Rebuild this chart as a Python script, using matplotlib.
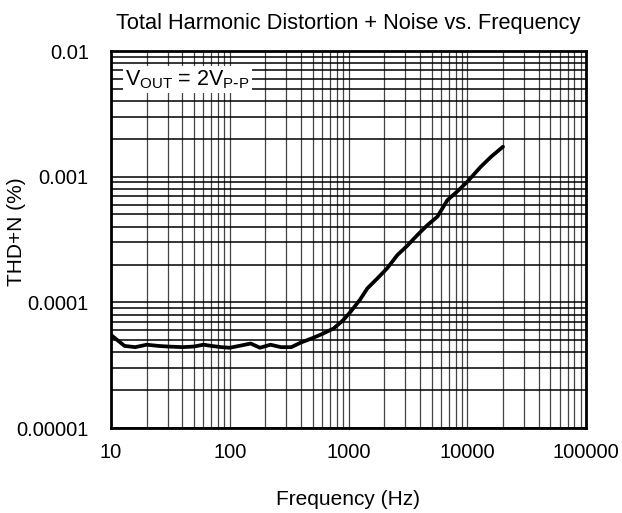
import numpy as np
import matplotlib
matplotlib.use('Agg')
import matplotlib.pyplot as plt
from matplotlib.ticker import LogLocator, FixedLocator, FixedFormatter, NullFormatter

plt.rcParams['font.family'] = ['Liberation Sans', 'DejaVu Sans']

# Data
freq = [10, 13, 16, 20, 25, 30, 40, 50, 60, 70, 85, 100, 120, 150, 180, 220,
        270, 330, 400, 500, 600, 750, 900, 1040, 1250, 1440, 1750, 2120, 2580,
        3100, 3800, 4600, 5600, 6800, 8200, 10000, 13000, 16000, 20000]
thdn = [5.5e-5, 4.5e-5, 4.4e-5, 4.6e-5, 4.5e-5, 4.45e-5, 4.4e-5, 4.45e-5, 4.6e-5,
        4.5e-5, 4.4e-5, 4.35e-5, 4.5e-5, 4.7e-5, 4.35e-5, 4.6e-5, 4.4e-5, 4.4e-5,
        4.8e-5, 5.2e-5, 5.6e-5, 6.2e-5, 7.2e-5, 8.4e-5, 1.05e-4, 1.29e-4, 1.55e-4,
        1.87e-4, 2.38e-4, 2.8e-4, 3.43e-4, 4.1e-4, 4.8e-4, 6.5e-4, 7.6e-4, 9.1e-4,
        1.2e-3, 1.45e-3, 1.73e-3]

yticks = [1e-5, 1e-4, 1e-3, 1e-2]
ytick_labels = ['0.00001', '0.0001', '0.001', '0.01']
xticks = [10, 100, 1000, 10000, 100000]
xtick_labels = ['10', '100', '1000', '10000', '100000']

fig = plt.figure(figsize=(6.22, 5.13), dpi=100)
ax = fig.add_axes([111 / 622, 1 - 428 / 513, (586 - 111) / 622, (428 - 51) / 513])

ax.plot(freq, thdn, color='black', linewidth=2.7, zorder=3,
        solid_capstyle='round', solid_joinstyle='round')

ax.set_xscale('log')
ax.set_yscale('log')
ax.set_xlim(10, 100000)
ax.set_ylim(1e-5, 1e-2)

ax.xaxis.set_major_locator(FixedLocator(xticks))
ax.xaxis.set_major_formatter(FixedFormatter(xtick_labels))
ax.yaxis.set_major_locator(FixedLocator(yticks))
ax.yaxis.set_major_formatter(FixedFormatter(ytick_labels))
ax.xaxis.set_minor_locator(LogLocator(base=10, subs=np.arange(2, 10), numticks=20))
ax.yaxis.set_minor_locator(LogLocator(base=10, subs=np.arange(2, 10), numticks=20))
ax.xaxis.set_minor_formatter(NullFormatter())
ax.yaxis.set_minor_formatter(NullFormatter())

ax.grid(True, which='both', axis='x', color='#444444', linewidth=0.9)
ax.grid(True, which='both', axis='y', color='black', linewidth=1.1)
ax.tick_params(which='both', length=0, labelsize=14.5)
ax.tick_params(axis='x', pad=11)
ax.tick_params(axis='y', pad=16)

for sp in ax.spines.values():
    sp.set_linewidth(2)
    sp.set_color('black')

ax.set_title('Total Harmonic Distortion + Noise vs. Frequency', fontsize=15.7, pad=16)
ax.set_xlabel('Frequency (Hz)', fontsize=15, labelpad=20)
# y label placed by hand so it sits inside the figure like the reference
fig.text(17 / 622, 1 - 232 / 513, 'THD+N (%)', fontsize=15, rotation=90,
         ha='center', va='center')

ax.text(0.03, 0.955, r'V$_{\mathregular{OUT}}$ = 2V$_{\mathregular{P\text{-}P}}$',
        transform=ax.transAxes, fontsize=15.5, va='top', ha='left',
        bbox=dict(facecolor='white', edgecolor='none', pad=1.5), zorder=4)

fig.savefig('out.png', dpi=100)
